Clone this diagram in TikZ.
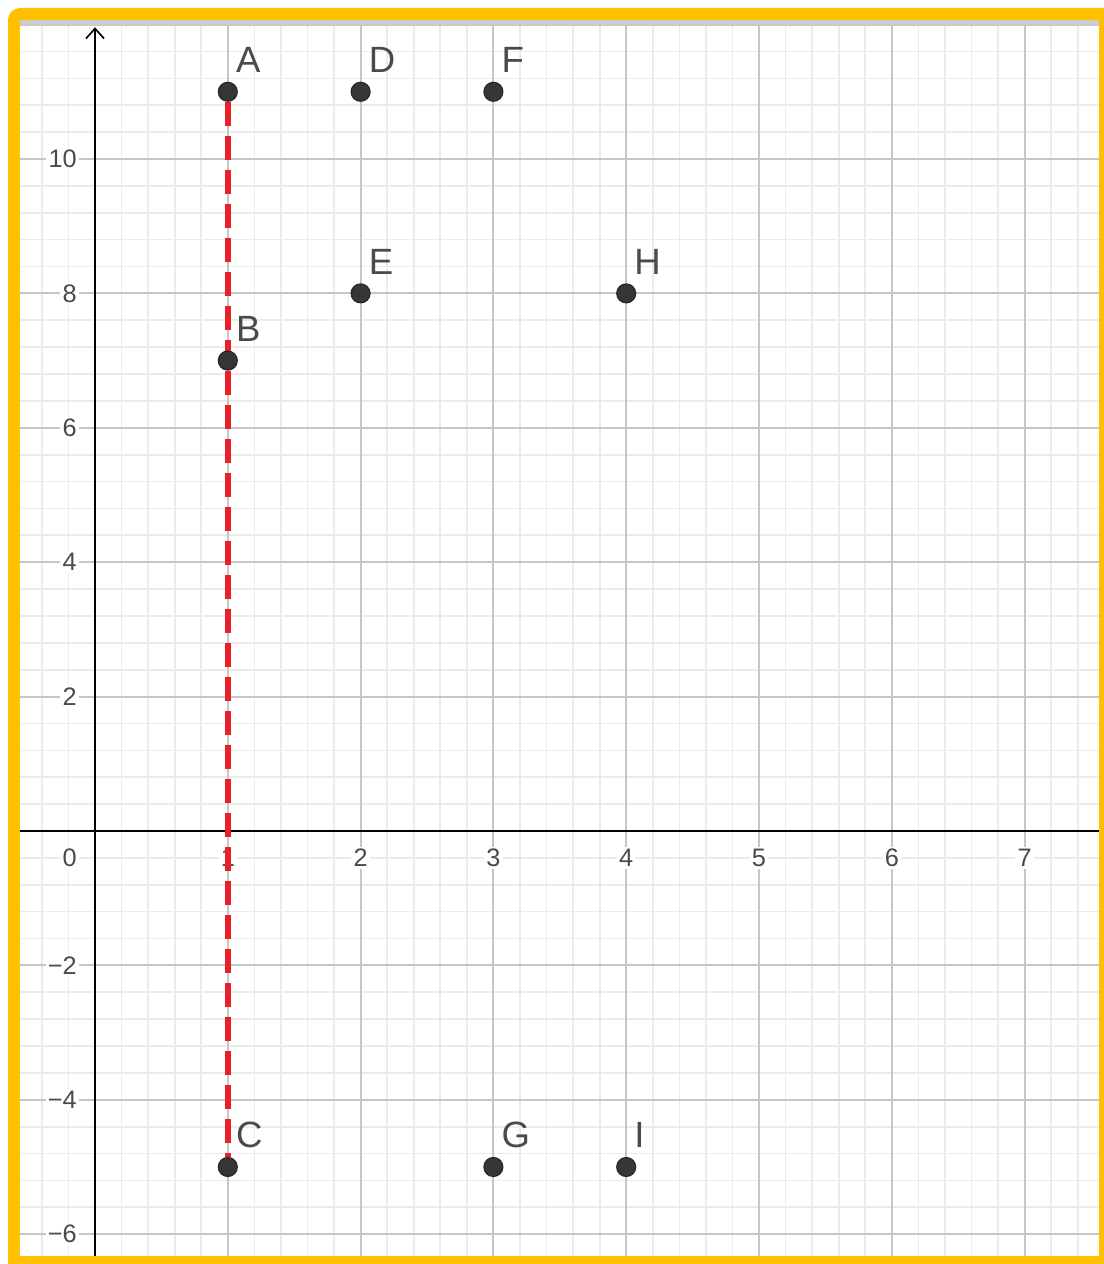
\documentclass[tikz,border=0pt]{standalone}
\usepackage{fontspec}
\setmainfont{Liberation Sans}
\usetikzlibrary{arrows.meta,backgrounds}
\definecolor{frameyellow}{HTML}{FFC000}
\definecolor{gridminor}{HTML}{EBEBEB}
\definecolor{gridmajor}{HTML}{C6C6C6}
\definecolor{tickgray}{HTML}{4A4A4A}
\definecolor{dotgray}{HTML}{363636}
\definecolor{segred}{HTML}{E8202A}

\begin{document}
\begin{tikzpicture}[
  x=1cm,
  y=1cm,
  every node/.style={font=\fontsize{18}{20}\selectfont},
  dot/.style={circle, fill=dotgray, draw=black!85, line width=0.8pt,
    minimum size=4.75mm, inner sep=0pt},
  ptlabel/.style={anchor=base west, inner sep=0pt, text=tickgray,
    font=\fontsize{26}{28}\selectfont},
  ticklab/.style={fill=white, inner sep=1.5pt, text=tickgray},
  segline/.style={segred, line width=4.5pt, dash pattern=on 6mm off 2.5mm}
]
  \useasboundingbox (0,0) rectangle (27.6,31.6);
  \def\plotbox{(-0.5648,-6.324) rectangle (7.560,12.068)}

  \begin{scope}[shift={(2.375,10.825)}, x=3.32cm, y=1.68cm]
    % frame and grid
    \begin{scope}[on background layer]
      \fill[frameyellow, rounded corners=3mm] (-0.655,-7) rectangle (8,12.247);
      \fill[white] \plotbox;
      \clip \plotbox;
      \foreach \gx in {-0.6,-0.4,...,7.61}
        \draw[gridminor, line width=1.2pt] (\gx,-6.6) -- (\gx,12.5);
      \foreach \gy in {-6.4,-6.0,...,12.1}
        \draw[gridminor, line width=1.2pt] (-0.7,\gy) -- (7.7,\gy);
      \foreach \gx in {1,...,7}
        \draw[gridmajor, line width=1.3pt] (\gx,-6.6) -- (\gx,12.5);
      \foreach \gy in {-6,-4,...,12}
        \draw[gridmajor, line width=1.3pt] (-0.7,\gy) -- (7.7,\gy);
      \fill[black!20] (-0.7,11.995) rectangle (7.7,12.068);
      % axes
      \draw[black, line width=1.4pt] (-0.7,0) -- (7.7,0);
      \draw[black, line width=1.2pt, -{Straight Barb[length=2.5mm, width=4.5mm]}]
        (0,-6.6) -- (0,11.96);
      % tick labels
      \foreach \gy/\txt in {10/10, 8/8, 6/6, 4/4, 2/2, -2/−2, -4/−4, -6/−6}
        \node[ticklab, anchor=east] (ty\gy) at (-0.12,\gy) {\txt};
      \node[ticklab, anchor=east] (t0) at (-0.12,-0.40) {0};
      \foreach \gx in {1,...,7}
        \node[ticklab] (tx\gx) at (\gx,-0.40) {\gx};
    \end{scope}

    % points
    \node[dot] (A) at (1,11) {};
    \node[dot] (B) at (1,7) {};
    \node[dot] (C) at (1,-5) {};
    \node[dot] (D) at (2,11) {};
    \node[dot] (E) at (2,8) {};
    \node[dot] (F) at (3,11) {};
    \node[dot] (G) at (3,-5) {};
    \node[dot] (H) at (4,8) {};
    \node[dot] (I) at (4,-5) {};
    \foreach \p in {A,B,C,D,E,F,G,H,I}
      \node[ptlabel] (lab\p) at ([xshift=2mm, yshift=4.75mm]\p.center) {\p};

    % segment A-B-C
    \begin{scope}[on background layer]
      \draw[segline] (A) -- (B) -- (C);
    \end{scope}
  \end{scope}
\end{tikzpicture}
\end{document}
